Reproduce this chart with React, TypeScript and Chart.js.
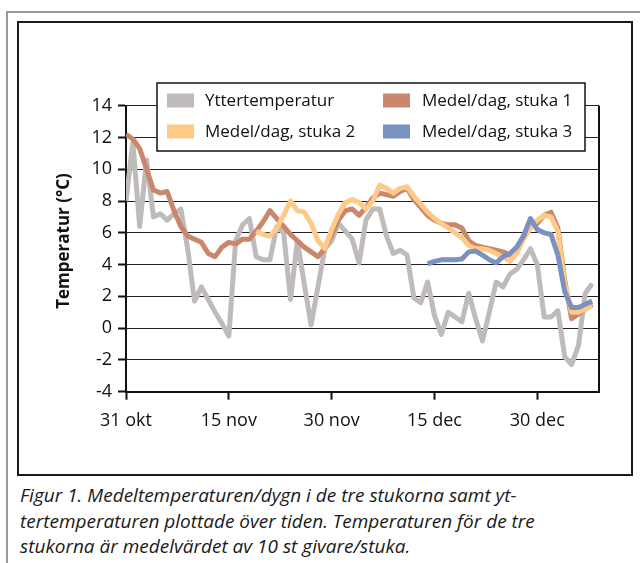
import { useEffect, useRef } from 'react';
import { Chart, registerables } from 'chart.js';
Chart.register(...registerables);

// Day offsets from 31 okt (day 0)
const xTickDays = [0, 15, 30, 45, 60];
const xTickLabels = ['31 okt', '15 nov', '30 nov', '15 dec', '30 dec'];
const yTicks = [-4, -2, 0, 2, 4, 6, 8, 10, 12, 14];

const seriesNames = ['Yttertemperatur', 'Medel/dag, stuka 1', 'Medel/dag, stuka 2', 'Medel/dag, stuka 3'];
const seriesColors = ['#bfbbbb', '#c9876d', '#ffc987', '#7a92bf'];

const ytterStart = 0;
const ytter = [
  8.0, 11.7, 6.4, 10.6, 7.0, 7.2, 6.8, 7.2, 7.5, 5.0,
  1.7, 2.6, 1.8, 1.0, 0.3, -0.5, 5.5, 6.5, 6.9, 4.5,
  4.3, 4.3, 6.4, 6.0, 1.8, 5.5, 2.8, 0.2, 2.6, 5.0,
  5.5, 6.6, 6.1, 5.6, 4.1, 6.8, 7.5, 7.5, 5.8, 4.7,
  4.9, 4.6, 1.9, 1.6, 2.9, 0.8, -0.4, 1.0, 0.7, 0.4,
  2.2, 0.6, -0.8, 1.0, 2.9, 2.6, 3.4, 3.7, 4.3, 5.0,
  4.0, 0.7, 0.7, 1.1, -1.8, -2.3, -1.1, 2.2, 2.8,
];

const stuka1Start = 0;
const stuka1 = [
  12.2, 11.9, 11.3, 10.0, 8.7, 8.5, 8.6, 7.4, 6.4, 5.8,
  5.6, 5.4, 4.7, 4.5, 5.1, 5.4, 5.3, 5.6, 5.6, 6.1,
  6.7, 7.4, 6.9, 6.4, 5.9, 5.5, 5.1, 4.8, 4.5, 5.0,
  5.9, 6.8, 7.4, 7.5, 7.1, 7.6, 8.2, 8.5, 8.4, 8.3,
  8.6, 8.8, 8.1, 7.6, 7.1, 6.8, 6.6, 6.5, 6.5, 6.3,
  5.5, 5.2, 5.1, 5.0, 4.9, 4.8, 4.6, 5.0, 5.8, 6.4,
  6.6, 7.1, 7.3, 6.3, 3.0, 0.6, 0.9, 1.2, 1.5,
];

const stuka2Start = 19;
const stuka2 = [
  6.1,
  5.9, 5.8, 6.3, 7.1, 8.0, 7.4, 7.3, 6.6, 5.5, 5.0,
  6.2, 7.2, 7.9, 8.1, 7.9, 7.5, 8.0, 9.0, 8.8, 8.5,
  8.8, 8.9, 8.3, 7.8, 7.3, 6.9, 6.6, 6.3, 6.0, 5.7,
  5.2, 5.0, 5.0, 4.9, 4.7, 4.5, 4.2, 4.7, 5.6, 6.3,
  6.8, 7.1, 7.0, 6.1, 2.8, 1.0, 1.0, 1.2, 1.4,
];

const stuka3Start = 44;
const stuka3 = [
  4.05, 4.2, 4.3, 4.3, 4.3, 4.35,
  4.8, 4.85, 4.6, 4.3, 4.1, 4.5, 4.7, 5.1, 5.8, 6.9,
  6.2, 6.0, 5.9, 4.6, 2.3, 1.3, 1.3, 1.5, 1.7,
];

const seriesValues = [ytter, stuka1, stuka2, stuka3];
const seriesStarts = [ytterStart, stuka1Start, stuka2Start, stuka3Start];
const drawOrder = [4, 3, 2, 1];

const FONT = '"Open Sans", "DejaVu Sans", sans-serif';

const overlayPlugin = {
  id: 'overlay',
  afterDraw(chart: any) {
    const { ctx, chartArea } = chart;
    ctx.save();
    // right border of plot area
    ctx.strokeStyle = '#111';
    ctx.lineWidth = 2;
    ctx.beginPath();
    ctx.moveTo(chartArea.right, chartArea.top);
    ctx.lineTo(chartArea.right, chartArea.bottom);
    ctx.stroke();

    // y axis title
    ctx.save();
    ctx.translate(64, 241);
    ctx.rotate(-Math.PI / 2);
    ctx.font = `bold 17px ${FONT}`;
    ctx.fillStyle = '#111';
    ctx.textAlign = 'center';
    ctx.textBaseline = 'middle';
    ctx.fillText('Temperatur (°C)', 0, 0);
    ctx.restore();

    // legend box
    ctx.fillStyle = '#fff';
    ctx.fillRect(157, 83, 428, 68);
    ctx.strokeStyle = '#111';
    ctx.lineWidth = 1.5;
    ctx.strokeRect(157, 83, 428, 68);
    const colX = [167, 383];
    const textX = [205, 422];
    const rowY = [100.5, 131.5];
    ctx.font = `17px ${FONT}`;
    ctx.textAlign = 'left';
    ctx.textBaseline = 'middle';
    chart.data.datasets.forEach((ds: any, i: number) => {
      const c = i % 2;
      const r = Math.floor(i / 2);
      ctx.fillStyle = ds.borderColor;
      ctx.fillRect(colX[c], rowY[r] - 7, 27, 14);
      ctx.fillStyle = '#111';
      ctx.fillText(ds.label, textX[c], rowY[r] + 1);
    });
    ctx.restore();
  },
};

export default function App() {
  const ref = useRef<HTMLCanvasElement>(null);
  useEffect(() => {
    const datasets = seriesValues.map((vals, s) => ({
      label: seriesNames[s],
      data: vals.map((v, i) => ({ x: seriesStarts[s] + i, y: v })),
      borderColor: seriesColors[s],
      backgroundColor: seriesColors[s],
      borderWidth: 5,
      pointRadius: 0,
      tension: 0,
      borderJoinStyle: 'round' as const,
      order: drawOrder[s],
    }));
    const chart = new Chart(ref.current!, {
      type: 'line',
      data: { datasets },
      options: {
        responsive: false,
        animation: false,
        layout: { padding: { left: 0, right: 41, top: 105.7, bottom: 28.3 } },
        plugins: { legend: { display: false }, tooltip: { enabled: false } },
        scales: {
          x: {
            type: 'linear',
            min: 0,
            max: 69,
            afterBuildTicks: (s: any) => {
              s.ticks = xTickDays.map((v) => ({ value: v }));
            },
            afterFit: (s: any) => {
              s.height = 60;
            },
            ticks: {
              callback: (v: any) => xTickLabels[xTickDays.indexOf(Number(v))] ?? '',
              font: { family: FONT, size: 18 },
              color: '#111',
              padding: 10,
              maxRotation: 0,
              autoSkip: false,
            },
            grid: { drawOnChartArea: false, drawTicks: true, tickLength: 8, tickColor: '#111', tickWidth: 2 },
            border: { display: true, color: '#111', width: 2 },
          },
          y: {
            type: 'linear',
            min: -4,
            max: 14,
            afterBuildTicks: (s: any) => {
              s.ticks = yTicks.map((v) => ({ value: v }));
            },
            afterFit: (s: any) => {
              s.width = 126;
            },
            ticks: {
              font: { family: FONT, size: 18 },
              color: '#111',
              padding: 6,
            },
            grid: { color: '#222', lineWidth: 1, tickLength: 8, tickColor: '#111', tickWidth: 2 },
            border: { display: true, color: '#111', width: 2 },
          },
        },
      },
      plugins: [overlayPlugin],
    });
    return () => chart.destroy();
  }, []);

  return (
    <div style={{ position: 'fixed', left: 0, top: 0, width: 640, height: 563, background: '#fff', overflow: 'hidden' }}>
      <div
        style={{
          position: 'absolute', left: 6, top: 11, width: 700, height: 600,
          borderTop: '2px solid #9a9a9a', borderLeft: '2px solid #9a9a9a',
        }}
      />
      <div
        style={{
          position: 'absolute', left: 17, top: 21, width: 616, height: 455,
          boxSizing: 'border-box', border: '2px solid #1a1a1a',
        }}
      />
      <canvas ref={ref} width={640} height={480} style={{ position: 'absolute', left: 0, top: 0, width: 640, height: 480 }} />
      <div
        style={{
          position: 'absolute', left: 20, top: 483, fontFamily: FONT, fontStyle: 'italic',
          fontSize: 19, lineHeight: '25.5px', color: '#1a1a1a', whiteSpace: 'nowrap',
        }}
      >
        Figur 1. Medeltemperaturen/dygn i de tre stukorna samt yt-
        <br />
        tertemperaturen plottade över tiden. Temperaturen för de tre
        <br />
        stukorna är medelvärdet av 10 st givare/stuka.
      </div>
    </div>
  );
}
